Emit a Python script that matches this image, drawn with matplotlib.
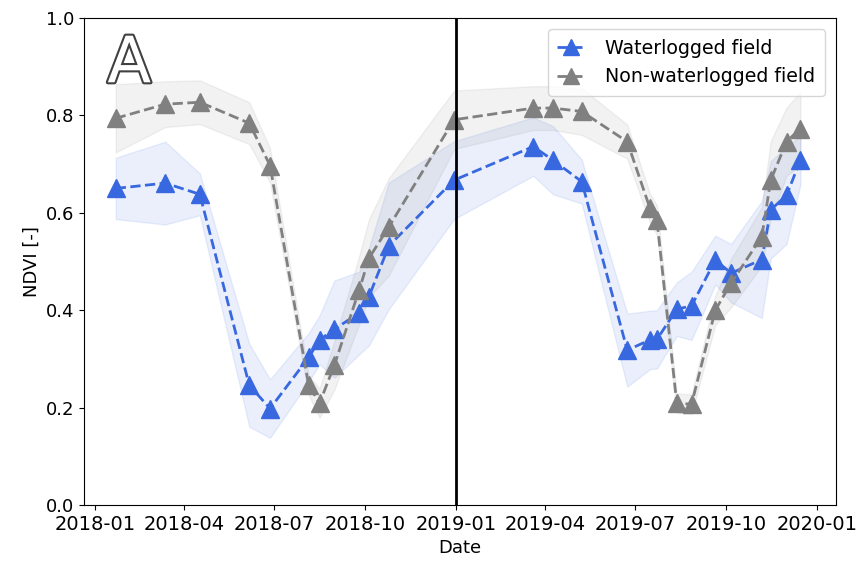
import matplotlib
matplotlib.use('Agg')
import matplotlib.pyplot as plt
import matplotlib.patheffects as pe
import numpy as np
import pandas as pd

# acquisition dates (shared by both fields)
dates = pd.to_datetime([
    '2018-01-22', '2018-03-13', '2018-04-17', '2018-06-06', '2018-06-27',
    '2018-08-05', '2018-08-16', '2018-08-31', '2018-09-25', '2018-10-05',
    '2018-10-25', '2018-12-30', '2019-03-20', '2019-04-09', '2019-05-08',
    '2019-06-23', '2019-07-16', '2019-07-23', '2019-08-12', '2019-08-27',
    '2019-09-20', '2019-10-06', '2019-11-06', '2019-11-15', '2019-12-01',
    '2019-12-15'])

# waterlogged field: mean NDVI and spread
wet_mean = [0.650, 0.661, 0.638, 0.246, 0.198, 0.303, 0.339, 0.361, 0.394, 0.428,
            0.532, 0.667, 0.736, 0.708, 0.664, 0.318, 0.339, 0.340, 0.402, 0.409,
            0.503, 0.476, 0.504, 0.606, 0.636, 0.708]
wet_std = [0.063, 0.085, 0.043, 0.085, 0.060, 0.050, 0.050, 0.100, 0.085, 0.100,
           0.130, 0.080, 0.060, 0.070, 0.045, 0.075, 0.060, 0.060, 0.055, 0.070,
           0.050, 0.060, 0.120, 0.100, 0.100, 0.050]

# non-waterlogged field
dry_mean = [0.794, 0.823, 0.827, 0.784, 0.697, 0.246, 0.209, 0.287, 0.441, 0.507,
            0.571, 0.791, 0.815, 0.815, 0.808, 0.746, 0.609, 0.585, 0.209, 0.207,
            0.400, 0.456, 0.551, 0.667, 0.746, 0.773]
dry_std = [0.070, 0.047, 0.045, 0.043, 0.035, 0.020, 0.030, 0.050, 0.070, 0.080,
           0.100, 0.060, 0.045, 0.045, 0.048, 0.035, 0.030, 0.030, 0.020, 0.020,
           0.030, 0.050, 0.060, 0.080, 0.070, 0.075]

split_date = pd.Timestamp('2019-01-01')
x_range = pd.to_datetime(['2017-12-21', '2020-01-20'])

blue = '#3868e0'
grey = 'gray'

plt.rcParams['font.size'] = 13

fig = plt.figure(figsize=(8.61, 5.62), dpi=100)
ax = fig.add_axes([0.0976, 0.1014, 0.8734, 0.8666])

wm, ws = np.array(wet_mean), np.array(wet_std)
dm, ds = np.array(dry_mean), np.array(dry_std)

ax.fill_between(dates, wm - ws, wm + ws, color=blue, alpha=0.1, linewidth=1)
ax.fill_between(dates, dm - ds, dm + ds, color=grey, alpha=0.1, linewidth=1)
ax.plot(dates, wm, '--^', color=blue, lw=2, ms=13, label='Waterlogged field')
ax.plot(dates, dm, '--^', color=grey, lw=2, ms=13, label='Non-waterlogged field')

ax.axvline(split_date, color='black', lw=2)

ax.set_xlim(x_range[0], x_range[1])
ax.set_ylim(0, 1)
ax.set_yticks([0.0, 0.2, 0.4, 0.6, 0.8, 1.0])
ax.tick_params(axis='x', labelsize=14)
ax.set_xlabel('Date')
ax.set_ylabel('NDVI [-]')
ax.legend(loc='upper right', fontsize=13.7, handlelength=1.4, markerscale=0.85,
          handletextpad=1.1, borderpad=0.5, borderaxespad=0.6)

ax.text(0.031, 0.868, 'A', transform=ax.transAxes, fontsize=46, color='white',
        ha='left', va='baseline',
        path_effects=[pe.withStroke(linewidth=3, foreground='0.25')])

fig.savefig('out.png', dpi=100)
